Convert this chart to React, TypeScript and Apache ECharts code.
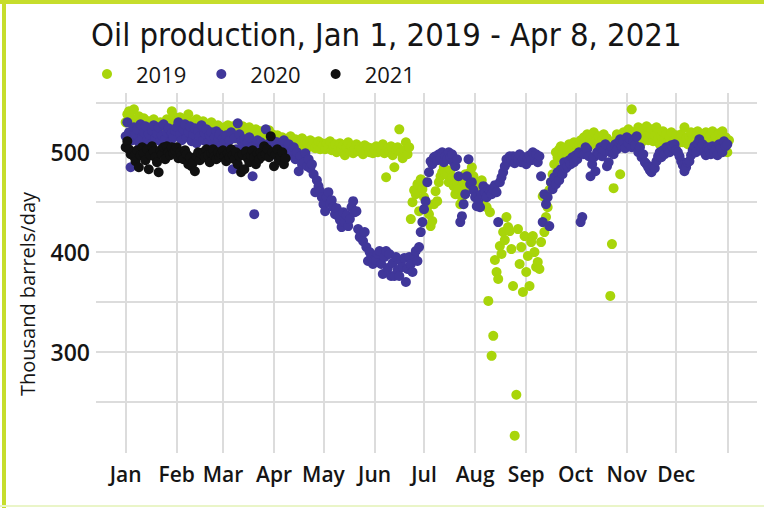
import React, { useEffect, useRef } from "react";
import * as echarts from "echarts";

const monthLabels = ["Jan", "Feb", "Mar", "Apr", "May", "Jun", "Jul", "Aug", "Sep", "Oct", "Nov", "Dec"];
const monthStarts = [0, 31, 59, 90, 120, 151, 181, 212, 243, 273, 304, 334];
const gridDays = [0, 31, 59, 90, 120, 151, 181, 212, 243, 273, 304, 334, 365];
const yTicks = [250, 300, 350, 400, 450, 500, 550];
const yLabels = [300, 400, 500];

const prod2019 = [
  530, 538, 541, 535, 528, 543, 532, 525, 536, 530, 527, 534, 522, 529, 531, 524, 526, 533, 520, 528, 522, 530, 525, 518, 527, 533, 521, 529, 541, 536, 526,
  531, 524, 535, 527, 520, 529, 532, 538, 526, 521, 530, 523, 533, 527, 519, 525, 531, 522, 528, 520, 524, 530, 518, 526, 521, 527, 516, 523,
  519, 525, 521, 527, 516, 522, 526, 520, 514, 524, 518, 523, 526, 515, 521, 517, 525, 512, 520, 516, 523, 519, 514, 521, 517, 511, 519, 515, 522, 513, 518,
  514, 510, 517, 511, 508, 515, 512, 506, 513, 509, 516, 507, 511, 513, 505, 510, 508, 514, 506, 511, 509, 505, 512, 507, 510, 504, 508, 511, 503, 509,
  507, 503, 509, 505, 511, 502, 506, 508, 500, 504, 509, 503, 507, 497, 505, 510, 502, 506, 499, 504, 508, 501, 505, 503, 498, 507, 502, 505, 500, 504, 499,
  503, 506, 500, 505, 502, 508, 499, 475, 504, 501, 506, 497, 485, 503, 505, 523, 500, 494, 502, 510, 498, 505,
  433, 450, 462, 458, 468, 441, 473, 463, 455, 470, 445, 438, 426, 431, 448, 461, 451, 470, 476, 480, 485, 478, 478, 470, 482, 475, 466, 458, 470, 463, 448, 455, 470, 478, 465, 473, 480, 485, 476, 470, 466,
  468, 455, 472, 450, 462, 445,
  351, 440, 296, 316, 392, 380, 373, 406, 398, 420, 412, 435, 425, 421, 403, 366, 216, 257, 423, 388, 405, 360, 416, 380, 396, 366, 410, 416, 400, 385, 390, 383, 410, 456, 420, 435, 445,
  462, 470, 478, 488, 500, 495, 503, 506, 498, 504, 492, 500, 508, 497, 503, 510, 500, 506,
  508, 512, 505, 515, 510, 518, 506, 513, 509, 520, 511, 507, 516, 503, 512, 518, 509, 514, 506, 356, 408, 464, 512, 518, 508, 478, 515, 520, 511, 517, 523,
  514, 543, 520, 512, 518, 525, 515, 510, 521, 516, 526, 512, 519, 523, 511, 517, 525, 514, 508, 516, 521, 513, 518, 510, 515, 520, 506, 512, 517, 509,
  513, 518, 510, 525, 514, 508, 516, 520, 512, 506, 515, 521, 511, 517, 509, 513, 520, 514, 507, 518, 521, 512, 516, 510, 519, 514, 521, 508, 515, 500, 512,
];

const prod2020 = [
  516, 530, 520, 485, 512, 525, 518, 523, 510, 528, 515, 520, 526, 512, 518, 508, 522, 527, 514, 519, 525, 511, 517, 528, 513, 520, 524, 510, 519, 515, 522,
  525, 530, 518, 512, 523, 528, 515, 520, 526, 511, 518, 524, 509, 521, 516, 527, 512, 519, 523, 510, 517, 520, 508, 515, 521, 512, 518, 506, 514,
  510, 517, 505, 512, 520, 483, 514, 503, 529, 518, 511, 506, 513, 502, 510, 515, 505, 476, 438, 508, 512, 504, 510, 499, 507, 523, 503, 509, 497, 505, 511,
  503, 510, 498, 506, 500, 512, 495, 504, 508, 497, 502, 505, 493, 500, 481, 496, 488, 490, 499, 486, 493, 484, 488, 478, 460, 472, 466, 461, 455, 448,
  441, 455, 460, 449, 452, 445, 438, 444, 436, 432, 425, 440, 430, 437, 426, 433, 445, 451, 440, 441, 423, 415, 418, 411, 420, 405, 391, 400, 395, 388, 392,
  392, 398, 401, 388, 378, 395, 401, 384, 398, 376, 389, 376, 395, 382, 376, 391, 385, 394, 370, 383, 395, 388, 380, 396, 401, 391, 405, 420, 430, 443,
  451, 470, 480, 491, 488, 495, 496, 492, 498, 494, 500, 490, 496, 493, 500, 495, 498, 490, 486, 493, 476, 430, 436, 448, 458, 476, 493, 468, 470, 462, 455,
  446, 452, 445, 458, 466, 460, 455, 463, 461, 458, 463, 467, 460, 430, 470, 475, 480, 486, 493, 490, 496, 492, 496, 489, 495, 493, 498, 490, 493, 495, 488,
  494, 497, 492, 500, 495, 498, 490, 496, 476, 430, 458, 448, 455, 426, 470, 463, 475, 468, 480, 472, 483, 478, 490, 484, 486, 492, 488, 495, 490, 497,
  493, 500, 430, 435, 498, 505, 503, 496, 476, 488, 495, 481, 500, 498, 505, 496, 502, 508, 486, 490, 500, 505, 498, 508, 503, 510, 513, 506, 511, 504, 515,
  509, 513, 505, 511, 507, 516, 500, 505, 495, 498, 490, 488, 485, 482, 480, 486, 484, 491, 496, 500, 495, 502, 498, 505, 503, 500, 507, 505, 508, 502,
  500, 496, 491, 487, 481, 485, 490, 491, 497, 502, 506, 500, 509, 513, 505, 508, 500, 497, 505, 502, 498, 506, 500, 503, 497, 508, 504, 500, 511, 506, 508,
];

const prod2021 = [
  505, 511, 503, 498, 500, 496, 491, 502, 485, 497, 505, 499, 492, 503, 483, 497, 506, 501, 495, 490, 480, 502, 498, 505, 493, 506, 500, 497, 505, 499, 502,
  505, 494, 500, 497, 493, 502, 498, 488, 495, 486, 490, 481, 496, 500, 492, 498, 500, 495, 503, 497, 490, 499, 503, 496, 493, 500, 495, 498,
  502, 496, 491, 499, 495, 503, 497, 493, 500, 488, 496, 480, 498, 483, 501, 494, 490, 497, 502, 495, 488, 499, 493, 500, 496, 506, 498, 503, 495, 516, 500,
  486, 498, 503, 492, 496, 500, 488, 494,
];

const seriesNames = ["2019", "2020", "2021"];
const seriesColors = ["#a8d50a", "#40379a", "#111111"];
const yAxisTitle = "Thousand barrels/day";

const toPoints = (vals: number[]) => vals.map((v, i) => [i, v]);

export default function App() {
  const ref = useRef<HTMLDivElement>(null);
  useEffect(() => {
    if (!ref.current) return;
    const chart = echarts.init(ref.current, null, { renderer: "svg" });
    const font = "'Open Sans', 'DejaVu Sans', sans-serif";
    const allData = [prod2019, prod2020, prod2021];
    chart.setOption({
      animation: false,
      backgroundColor: "#ffffff",
      title: {
        text: "Oil production, Jan 1, 2019 - Apr 8, 2021",
        left: 86,
        top: 13,
        textStyle: {
          fontFamily: "'Liberation Sans Narrow', 'DejaVu Sans Condensed', 'Roboto', sans-serif",
          fontWeight: "normal",
          fontSize: 32.5,
          color: "#151515",
        },
      },
      legend: {
        left: 97,
        top: 58,
        icon: "circle",
        itemWidth: 10,
        itemHeight: 10,
        itemGap: 30,
        textStyle: { fontFamily: font, fontSize: 22, color: "#151515", padding: [0, 0, 0, 19] },
        data: seriesNames,
      },
      grid: { left: 96, right: 7, top: 93, bottom: 55, containLabel: false },
      xAxis: {
        type: "value",
        min: -18,
        max: 383,
        axisLine: { show: false },
        axisTick: { show: false, customValues: gridDays },
        splitLine: { show: true, lineStyle: { color: "#dcdcdc", width: 2 } },
        axisLabel: {
          customValues: monthStarts,
          formatter: (v: number) => monthLabels[monthStarts.indexOf(v)] ?? "",
          fontFamily: font,
          fontWeight: 600,
          fontSize: 21,
          color: "#151515",
          margin: 10,
        },
      },
      yAxis: {
        type: "value",
        min: 198.6,
        max: 559.4,
        axisLine: { show: false },
        axisTick: { show: false, customValues: yTicks },
        splitLine: { show: true, lineStyle: { color: "#dcdcdc", width: 2 } },
        axisLabel: {
          customValues: yLabels,
          fontFamily: font,
          fontWeight: 600,
          fontSize: 23,
          color: "#151515",
          margin: 6,
        },
      },
      series: seriesNames.map((name, i) => ({
        name,
        type: "scatter",
        symbol: "circle",
        symbolSize: 10,
        itemStyle: { color: seriesColors[i], opacity: 1 },
        data: toPoints(allData[i]),
      })),
      graphic: [
        { type: "rect", left: 2, top: 0, shape: { width: 4, height: 508 }, style: { fill: "#c6dd2c" } },
        { type: "rect", left: 0, top: 0, shape: { width: 764, height: 4 }, style: { fill: "#c6dd2c" } },
        { type: "rect", left: 0, top: 505, shape: { width: 764, height: 2 }, style: { fill: "#eaf5c8" } },
        {
          type: "text",
          x: 27,
          y: 294,
          rotation: Math.PI / 2,
          style: {
            text: yAxisTitle,
            fontFamily: font,
            fontSize: 20,
            fill: "#151515",
            align: "center",
            verticalAlign: "middle",
          },
        },
      ],
    });
    return () => chart.dispose();
  }, []);
  return <div ref={ref} style={{ position: "fixed", left: 0, top: 0, width: 764, height: 508 }} />;
}
